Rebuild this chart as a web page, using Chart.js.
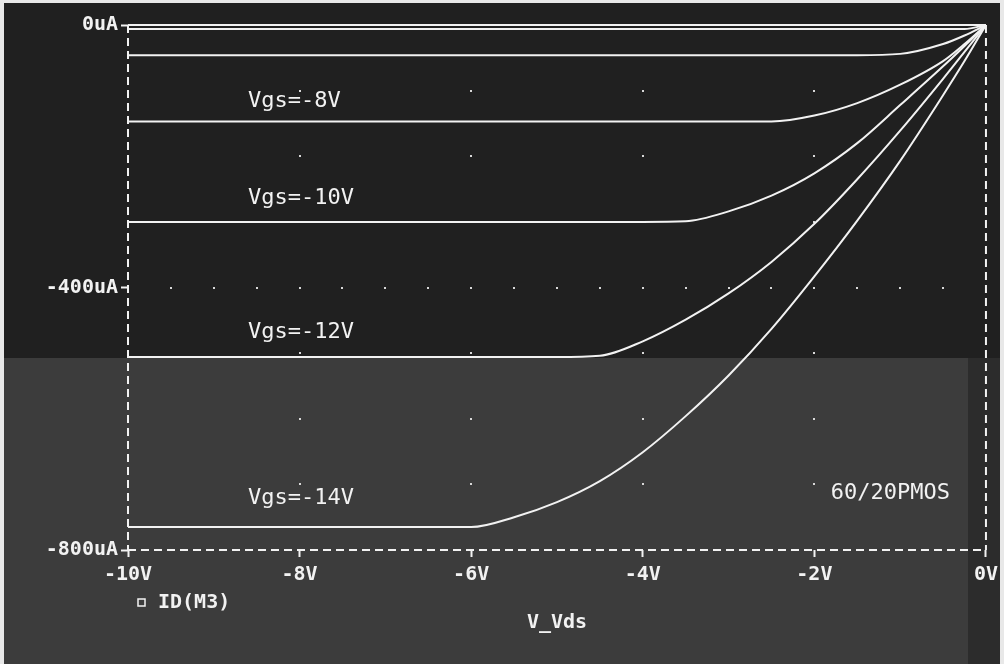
<!DOCTYPE html>
<html>
<head>
<meta charset="utf-8">
<script src="https://cdn.jsdelivr.net/npm/chart.js@4.4.1/dist/chart.umd.min.js"></script>
<style>
  html, body { margin: 0; padding: 0; background: #202020; }
  #wrap { width: 1004px; height: 664px; position: relative; }
</style>
</head>
<body>
<div id="wrap"><canvas id="c" width="1004" height="664"></canvas></div>
<script>
// ---- data (V_Vds in volts, ID(M3) in uA) ----
const vds = [-10, -6, -5.5, -5, -4.5, -4, -3.5, -3, -2.5, -2, -1.5, -1, -0.5, -0.25, 0];
const idVgs14 = [-765, -765, -750, -727, -695, -651, -596, -534, -463, -383, -298, -207, -107, -55, 0];
const idVgs12 = [-506, -506, -506, -506, -504, -482, -449, -409, -361, -303, -235, -161, -82, -41, 0];
const idVgs10 = [-300, -300, -300, -300, -300, -300, -299, -284, -260, -226, -180, -122, -63, -32, 0];
const idVgs8  = [-147, -147, -147, -147, -147, -147, -147, -147, -147, -138, -119, -91, -55, -29, 0];
const idVgs6  = [-46, -46, -46, -46, -46, -46, -46, -46, -46, -46, -46, -44, -29, -16, 0];
const idVgs4  = [-6, -6, -6, -6, -6, -6, -6, -6, -6, -6, -6, -6, -6, -6, 0];
const idVgs2  = [0, 0, 0, 0, 0, 0, 0, 0, 0, 0, 0, 0, 0, 0, 0];

const xTickValues = [-10, -8, -6, -4, -2, 0];
const xTickLabels = ['-10V', '-8V', '-6V', '-4V', '-2V', '0V'];
const yTickValues = [-800, -400, 0];
const yTickLabels = ['-800uA', '-400uA', '0uA'];

const curveLabels = ['Vgs=-8V', 'Vgs=-10V', 'Vgs=-12V', 'Vgs=-14V'];
const curveLabelX = [-8.6, -8.6, -8.6, -8.6];
const curveLabelY = [-116, -264, -468, -721];
const noteText = '60/20PMOS';
const noteX = -1.81;
const noteY = -713;
const legendText = 'ID(M3)';
const xTitle = 'V_Vds';

const gridMajorX = [-8, -6, -4, -2];
const gridRowY = [-100, -200, -300, -400, -500, -600, -700];
const gridMinorX = [-9.5, -9, -8.5, -8, -7.5, -7, -6.5, -6, -5.5, -5, -4.5, -4, -3.5, -3, -2.5, -2, -1.5, -1, -0.5];
const gridMinorRow = -400;

const series = [idVgs14, idVgs12, idVgs10, idVgs8, idVgs6, idVgs4, idVgs2];

const WHITE = '#f2f2f2';
const MONO = '"DejaVu Sans Mono", "Liberation Mono", monospace';

const datasets = series.map(arr => ({
  data: vds.map((v, i) => ({ x: v, y: arr[i] })),
  borderColor: WHITE,
  borderWidth: 2,
  pointRadius: 0,
  fill: false,
  cubicInterpolationMode: 'monotone',
  clip: 4
}));

const bgPlugin = {
  id: 'bg',
  beforeDraw(chart) {
    const { ctx, width, height } = chart;
    ctx.save();
    ctx.fillStyle = '#202020';
    ctx.fillRect(0, 0, width, height);
    ctx.fillStyle = '#3c3c3c';
    ctx.fillRect(0, 358, 968, height - 358);
    ctx.fillStyle = '#2c2c2c';
    ctx.fillRect(968, 358, width - 968, height - 358);
    ctx.fillStyle = '#e8e8e8';
    ctx.fillRect(0, 0, width, 3);
    ctx.fillRect(0, 0, 4, height);
    ctx.fillRect(width - 4, 0, 4, height);
    ctx.restore();
  }
};

const gridDotsPlugin = {
  id: 'gridDots',
  beforeDatasetsDraw(chart) {
    const { ctx, scales: { x, y } } = chart;
    ctx.save();
    ctx.fillStyle = '#d8d8d8';
    gridMajorX.forEach(gx => {
      gridRowY.forEach(gy => {
        ctx.fillRect(Math.round(x.getPixelForValue(gx)) - 1, Math.round(y.getPixelForValue(gy)) - 1, 2, 2);
      });
    });
    gridMinorX.forEach(gx => {
      ctx.fillRect(Math.round(x.getPixelForValue(gx)) - 1, Math.round(y.getPixelForValue(gridMinorRow)) - 1, 2, 2);
    });
    // dashed frame: left, bottom, right
    const xl = x.getPixelForValue(-10), xr = x.getPixelForValue(0);
    const yt = y.getPixelForValue(0), yb = y.getPixelForValue(-800);
    ctx.strokeStyle = WHITE;
    ctx.lineWidth = 2;
    ctx.setLineDash([8, 5]);
    ctx.beginPath();
    ctx.moveTo(xl, yt); ctx.lineTo(xl, yb);
    ctx.moveTo(xl, yb); ctx.lineTo(xr, yb);
    ctx.moveTo(xr, yt); ctx.lineTo(xr, yb);
    ctx.stroke();
    ctx.restore();
  }
};

const textPlugin = {
  id: 'texts',
  afterDatasetsDraw(chart) {
    const { ctx, scales: { x, y } } = chart;
    ctx.save();
    ctx.fillStyle = WHITE;
    ctx.font = '22px ' + MONO;
    ctx.textAlign = 'left';
    ctx.textBaseline = 'middle';
    curveLabels.forEach((t, i) => {
      ctx.fillText(t, x.getPixelForValue(curveLabelX[i]), y.getPixelForValue(curveLabelY[i]));
    });
    ctx.fillText(noteText, x.getPixelForValue(noteX), y.getPixelForValue(noteY));
    // legend
    const lx = x.left + 10, ly = 603;
    ctx.strokeStyle = WHITE;
    ctx.lineWidth = 1.5;
    ctx.strokeRect(lx, ly - 4, 7, 7);
    ctx.font = 'bold 20px ' + MONO;
    ctx.fillText(legendText, lx + 20, ly);
    ctx.restore();
  }
};

new Chart(document.getElementById('c'), {
  type: 'line',
  data: { datasets },
  options: {
    responsive: false,
    animation: false,
    layout: { padding: { top: 25, right: 15, bottom: 25, left: 0 } },
    plugins: { legend: { display: false }, tooltip: { enabled: false } },
    scales: {
      x: {
        type: 'linear',
        min: -10, max: 0,
        afterBuildTicks: s => { s.ticks = xTickValues.map(v => ({ value: v })); },
        afterFit: s => { s.height = 89; },
        ticks: {
          color: WHITE,
          font: { family: MONO, size: 20, weight: 'bold' },
          padding: 6,
          maxRotation: 0,
          autoSkip: false,
          callback: v => xTickLabels[xTickValues.indexOf(v)]
        },
        grid: { display: true, drawOnChartArea: false, drawTicks: true, tickLength: 7, tickColor: WHITE, tickWidth: 2 },
        border: { display: false },
        title: {
          display: true, text: xTitle, color: WHITE,
          font: { family: MONO, size: 20, weight: 'bold' },
          padding: { top: 4, bottom: 4 }
        }
      },
      y: {
        type: 'linear',
        min: -800, max: 0,
        afterBuildTicks: s => { s.ticks = yTickValues.map(v => ({ value: v })); },
        afterFit: s => { s.width = 128; },
        ticks: {
          color: WHITE,
          font: { family: MONO, size: 20, weight: 'bold' },
          padding: 3,
          callback: v => yTickLabels[yTickValues.indexOf(v)]
        },
        grid: { display: true, drawOnChartArea: false, drawTicks: true, tickLength: 7, tickColor: WHITE, tickWidth: 2 },
        border: { display: false }
      }
    }
  },
  plugins: [bgPlugin, gridDotsPlugin, textPlugin]
});
</script>
</body>
</html>
